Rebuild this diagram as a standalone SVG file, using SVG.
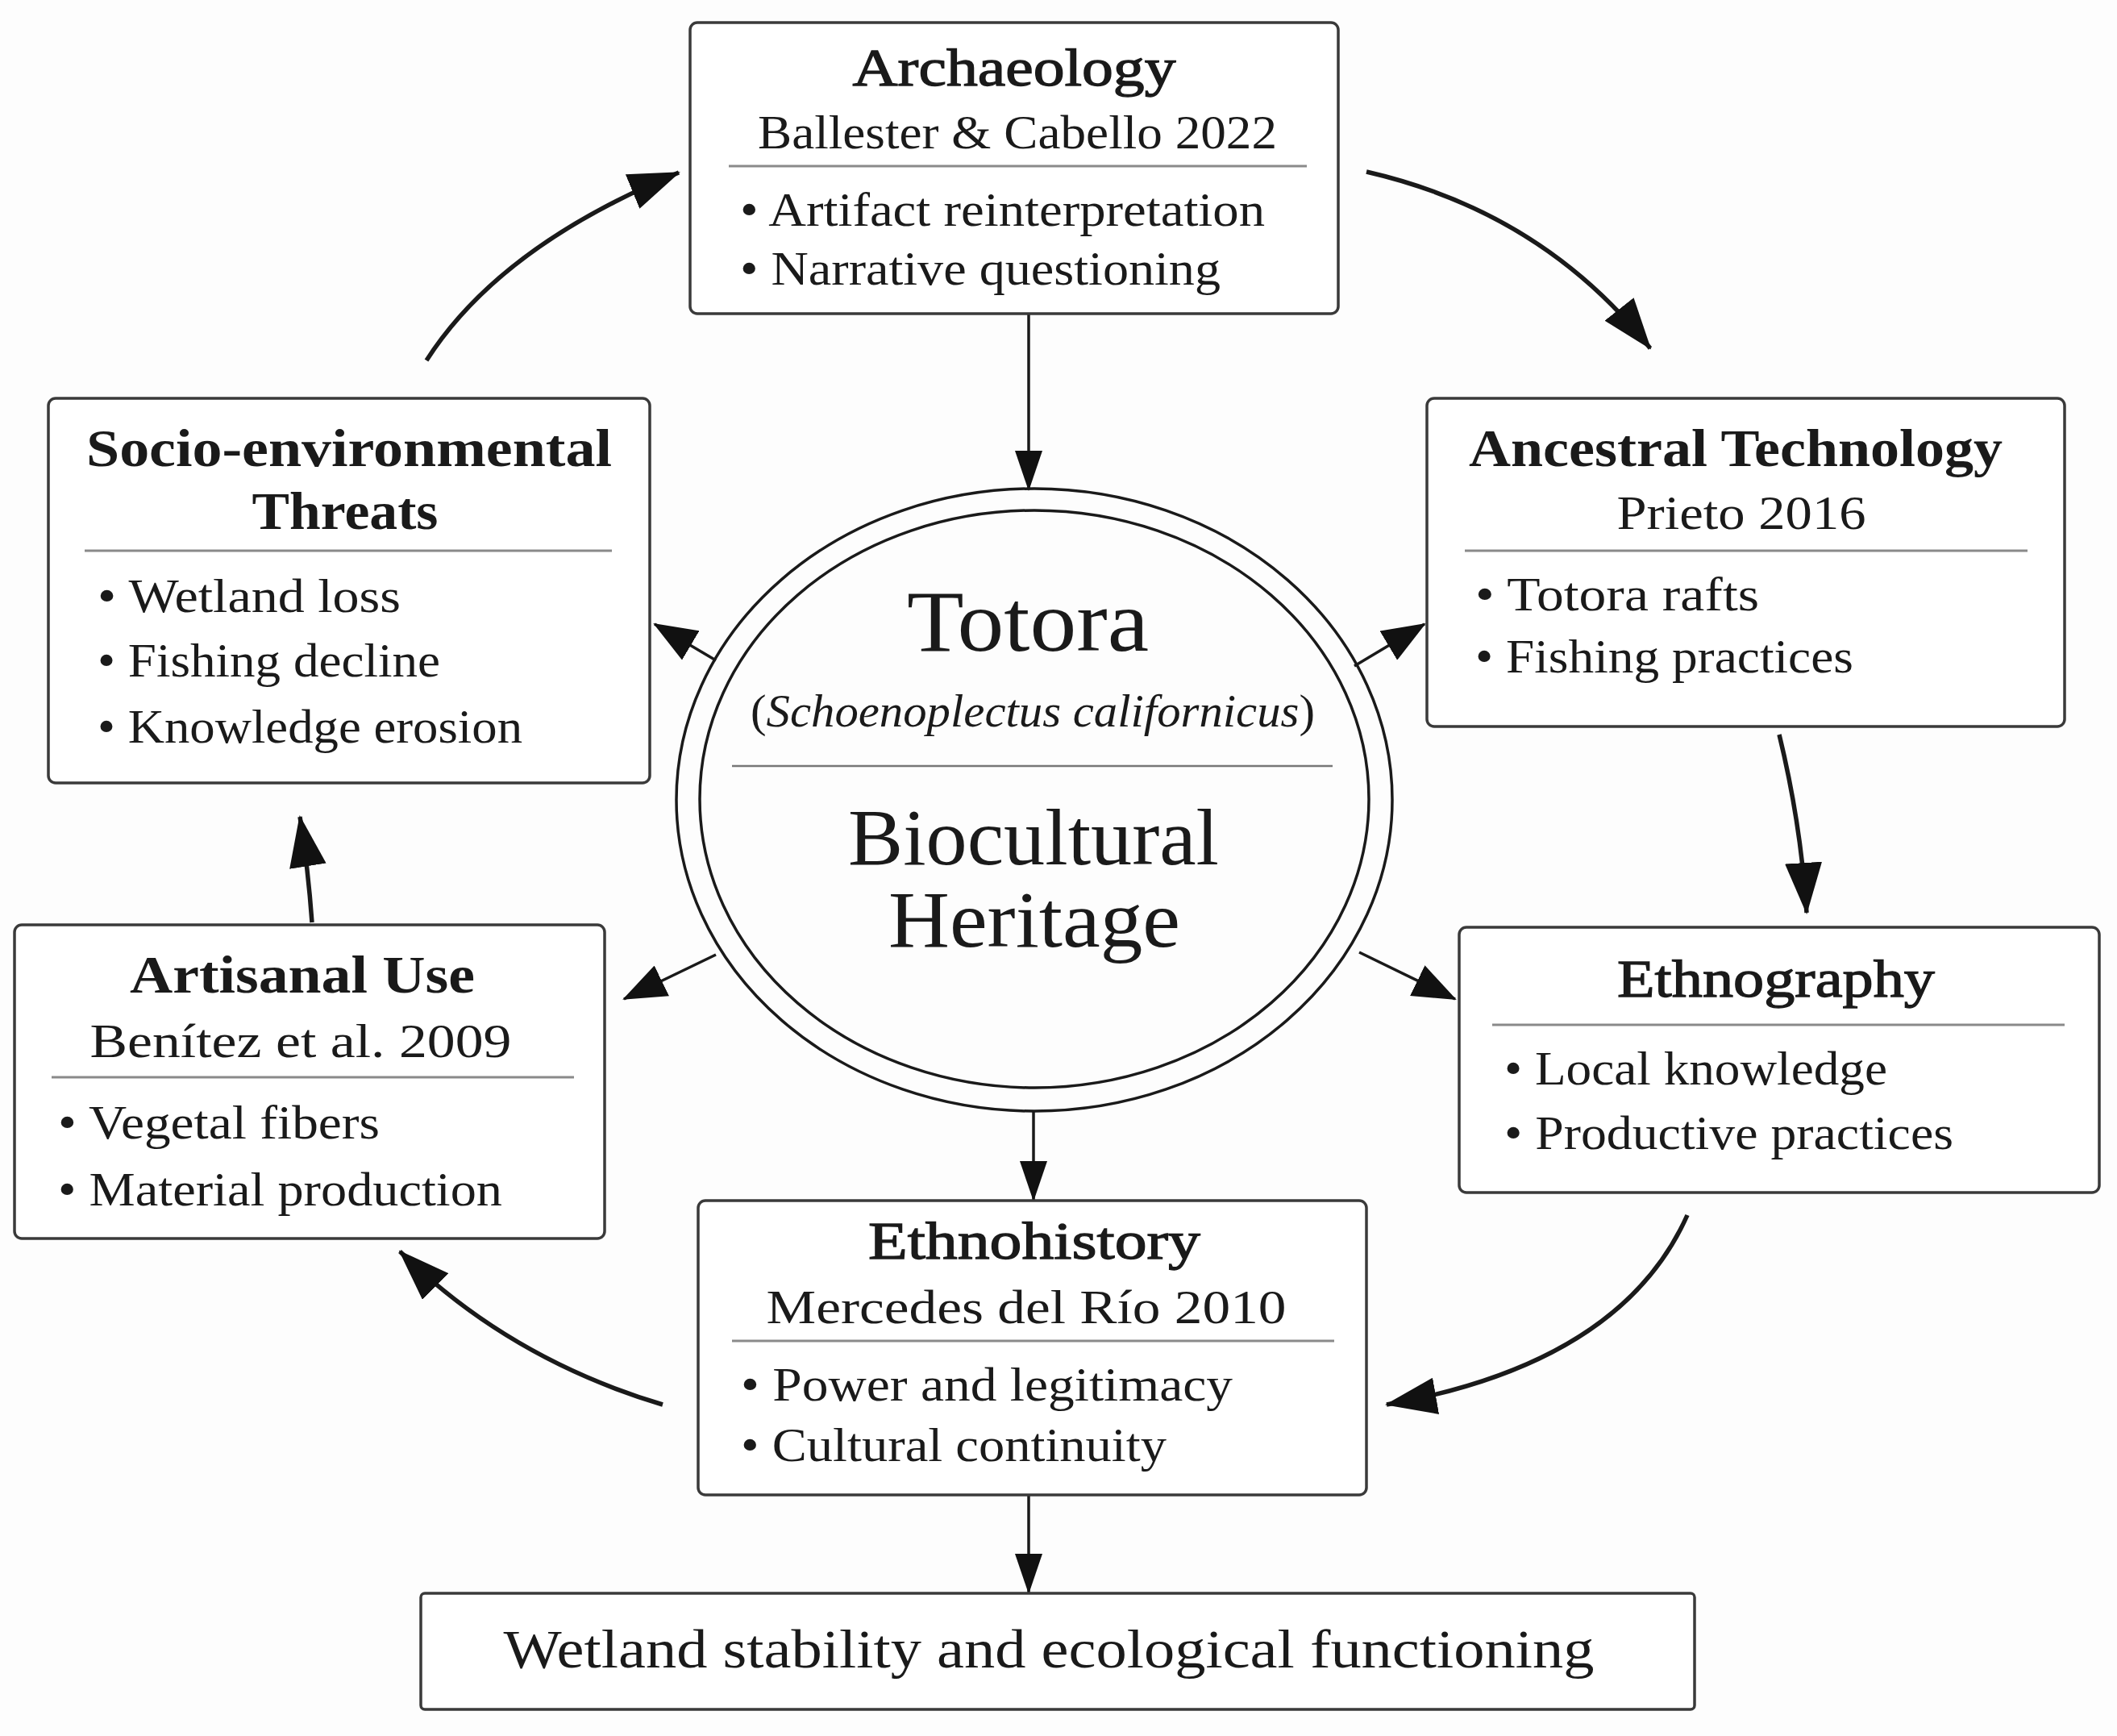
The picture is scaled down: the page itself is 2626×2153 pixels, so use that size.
<svg xmlns="http://www.w3.org/2000/svg" width="2626" height="2153" viewBox="0 0 2626 2153">
<defs>
<style>
text{font-family:"Liberation Serif","Times New Roman",serif;fill:#1a1a1a}
.box{fill:#fff;stroke:#3a3a3a;stroke-width:3.5}
.div{stroke:#8a8a8a;stroke-width:3}
.tb{font-size:66px;font-weight:bold;text-anchor:middle}
.ts{font-size:66px;text-anchor:middle;stroke:#1a1a1a;stroke-width:1.3}
.sub{font-size:60px;text-anchor:middle}
.bl{font-size:60px}
.c1{font-size:108px;text-anchor:middle}
.c2{font-size:58px;text-anchor:middle}
.c3{font-size:100px;text-anchor:middle}
.ell{fill:none;stroke:#1a1a1a;stroke-width:3.5}
.thin{fill:none;stroke:#1a1a1a;stroke-width:3.5}
.thick{fill:none;stroke:#1a1a1a;stroke-width:5.5}
</style>
<marker id="av" markerUnits="userSpaceOnUse" markerWidth="50" markerHeight="34" refX="48" refY="17" orient="auto" viewBox="0 0 50 34">
<path d="M0,0 L50,17 L0,34 z" fill="#111"/>
</marker>
<marker id="am" markerUnits="userSpaceOnUse" markerWidth="54" markerHeight="42" refX="52" refY="21" orient="auto" viewBox="0 0 54 42">
<path d="M0,0 L54,21 L0,42 z" fill="#111"/>
</marker>
<marker id="ab" markerUnits="userSpaceOnUse" markerWidth="64" markerHeight="46" refX="62" refY="23" orient="auto" viewBox="0 0 64 46">
<path d="M0,0 L64,23 L0,46 z" fill="#111"/>
</marker>
</defs>
<rect x="0" y="0" width="2626" height="2153" fill="#fdfdfd"/>

<g id="connectors">
<path class="thin" d="M1276,389 L1276,607" marker-end="url(#av)"/>
<path class="thin" d="M1282,1378 L1282,1488" marker-end="url(#av)"/>
<path class="thin" d="M1276,1854 L1276,1975" marker-end="url(#av)"/>
<path class="thin" d="M888,819 L812,774" marker-end="url(#am)"/>
<path class="thin" d="M1680,826 L1767,774" marker-end="url(#am)"/>
<path class="thin" d="M888,1184 L774,1239" marker-end="url(#am)"/>
<path class="thin" d="M1686,1181 L1805,1239" marker-end="url(#am)"/>
<path class="thick" d="M529,447 Q620,305 842,214" marker-end="url(#ab)"/>
<path class="thick" d="M1695,213 Q1913,263 2047,432" marker-end="url(#ab)"/>
<path class="thick" d="M2207,911 Q2234,1022 2241,1132" marker-end="url(#ab)"/>
<path class="thick" d="M2093,1507 Q2011,1691 1720,1742" marker-end="url(#ab)"/>
<path class="thick" d="M822,1742 Q631,1685 496,1552" marker-end="url(#ab)"/>
<path class="thick" d="M387,1144 Q382,1075 372,1013" marker-end="url(#ab)"/>
</g>

<g id="archaeology">
<rect class="box" x="856" y="28" width="804" height="361" rx="9"/>
<text class="ts" x="1258" y="106" textLength="401" lengthAdjust="spacingAndGlyphs">Archaeology</text>
<text class="sub" x="1262" y="184" textLength="644" lengthAdjust="spacingAndGlyphs">Ballester &amp; Cabello 2022</text>
<line class="div" x1="904" y1="206" x2="1621" y2="206"/>
<text class="bl" x="918" y="280" textLength="651" lengthAdjust="spacingAndGlyphs">• Artifact reinterpretation</text>
<text class="bl" x="918" y="353" textLength="596" lengthAdjust="spacingAndGlyphs">• Narrative questioning</text>
</g>

<g id="ancestral-technology">
<rect class="box" x="1770" y="494" width="791" height="407" rx="9"/>
<text class="tb" x="2153" y="578" textLength="662" lengthAdjust="spacingAndGlyphs">Ancestral Technology</text>
<text class="sub" x="2160" y="656" textLength="309" lengthAdjust="spacingAndGlyphs">Prieto 2016</text>
<line class="div" x1="1817" y1="683" x2="2515" y2="683"/>
<text class="bl" x="1830" y="757" textLength="352" lengthAdjust="spacingAndGlyphs">• Totora rafts</text>
<text class="bl" x="1830" y="834" textLength="469" lengthAdjust="spacingAndGlyphs">• Fishing practices</text>
</g>

<g id="socio-environmental-threats">
<rect class="box" x="60" y="494" width="746" height="477" rx="9"/>
<text class="tb" x="433" y="578" textLength="652" lengthAdjust="spacingAndGlyphs">Socio-environmental</text>
<text class="tb" x="428" y="656" textLength="231" lengthAdjust="spacingAndGlyphs">Threats</text>
<line class="div" x1="105" y1="683" x2="759" y2="683"/>
<text class="bl" x="121" y="759" textLength="376" lengthAdjust="spacingAndGlyphs">• Wetland loss</text>
<text class="bl" x="121" y="839" textLength="425" lengthAdjust="spacingAndGlyphs">• Fishing decline</text>
<text class="bl" x="121" y="921" textLength="527" lengthAdjust="spacingAndGlyphs">• Knowledge erosion</text>
</g>

<g id="artisanal-use">
<rect class="box" x="18" y="1147" width="732" height="389" rx="9"/>
<text class="tb" x="375" y="1231" textLength="428" lengthAdjust="spacingAndGlyphs">Artisanal Use</text>
<text class="sub" x="373" y="1311" textLength="523" lengthAdjust="spacingAndGlyphs">Benítez et al. 2009</text>
<line class="div" x1="64" y1="1336" x2="712" y2="1336"/>
<text class="bl" x="72" y="1412" textLength="399" lengthAdjust="spacingAndGlyphs">• Vegetal fibers</text>
<text class="bl" x="72" y="1495" textLength="551" lengthAdjust="spacingAndGlyphs">• Material production</text>
</g>

<g id="ethnography">
<rect class="box" x="1810" y="1150" width="794" height="329" rx="9"/>
<text class="ts" x="2203" y="1236" textLength="394" lengthAdjust="spacingAndGlyphs">Ethnography</text>
<line class="div" x1="1851" y1="1271" x2="2561" y2="1271"/>
<text class="bl" x="1866" y="1345" textLength="475" lengthAdjust="spacingAndGlyphs">• Local knowledge</text>
<text class="bl" x="1866" y="1425" textLength="557" lengthAdjust="spacingAndGlyphs">• Productive practices</text>
</g>

<g id="ethnohistory">
<rect class="box" x="866" y="1489" width="829" height="365" rx="9"/>
<text class="ts" x="1283" y="1561" textLength="412" lengthAdjust="spacingAndGlyphs">Ethnohistory</text>
<text class="sub" x="1273" y="1641" textLength="645" lengthAdjust="spacingAndGlyphs">Mercedes del Río 2010</text>
<line class="div" x1="908" y1="1663" x2="1655" y2="1663"/>
<text class="bl" x="919" y="1737" textLength="610" lengthAdjust="spacingAndGlyphs">• Power and legitimacy</text>
<text class="bl" x="919" y="1812" textLength="528" lengthAdjust="spacingAndGlyphs">• Cultural continuity</text>
</g>

<g id="wetland-stability">
<rect class="box" x="522" y="1976" width="1580" height="144" rx="5"/>
<text class="sub" style="font-size:68px" x="1301" y="2068" textLength="1353" lengthAdjust="spacingAndGlyphs">Wetland stability and ecological functioning</text>
</g>

<g id="totora-center">
<ellipse class="ell" cx="1283" cy="992" rx="444" ry="386" fill="#fff"/>
<ellipse class="ell" cx="1283" cy="991" rx="415" ry="358"/>
<text class="c1" x="1275" y="807" textLength="300" lengthAdjust="spacingAndGlyphs">Totora</text>
<text class="c2" x="1281" y="901" textLength="700" lengthAdjust="spacingAndGlyphs">(<tspan font-style="italic">Schoenoplectus californicus</tspan>)</text>
<line x1="908" y1="950" x2="1653" y2="950" stroke="#777" stroke-width="2.5"/>
<text class="c3" x="1282" y="1072" textLength="460" lengthAdjust="spacingAndGlyphs">Biocultural</text>
<text class="c3" x="1283" y="1174" textLength="362" lengthAdjust="spacingAndGlyphs">Heritage</text>
</g>
</svg>
